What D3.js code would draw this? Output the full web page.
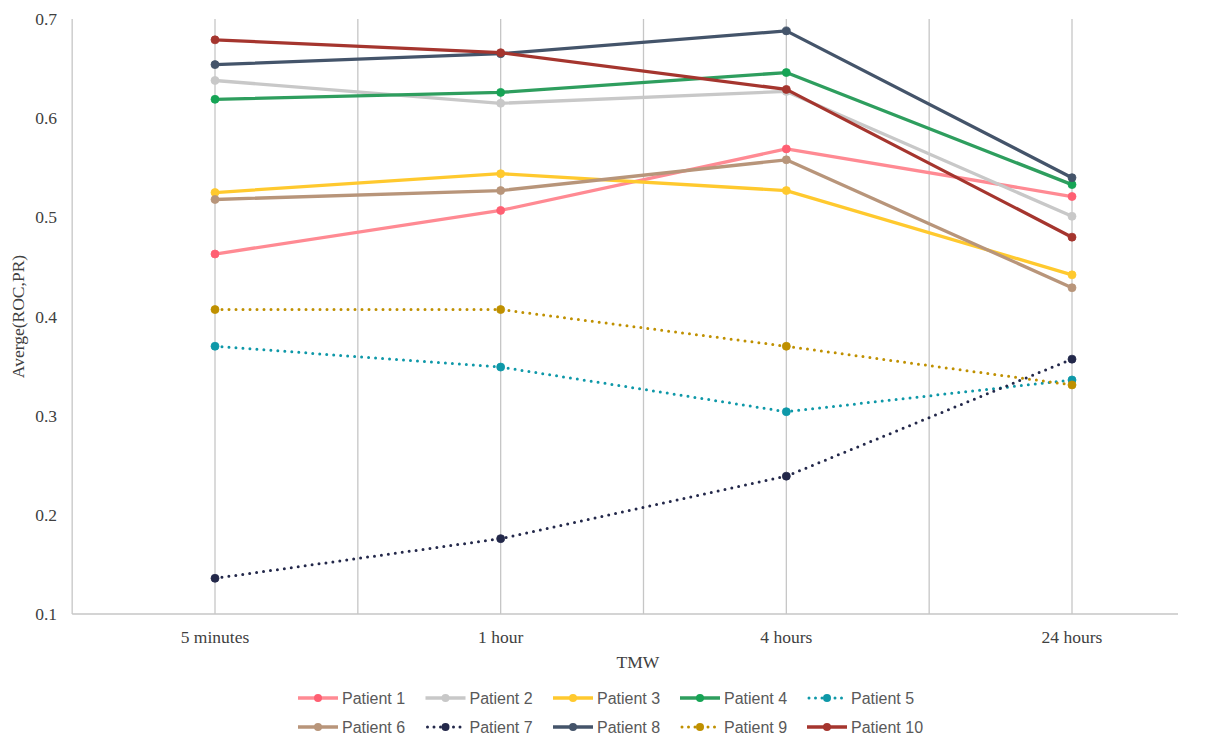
<!DOCTYPE html>
<html><head><meta charset="utf-8">
<script src="https://cdn.jsdelivr.net/npm/d3@7"></script>
<style>body{margin:0;background:#fff}svg{display:block}</style>
</head><body>
<svg id="c" width="1206" height="738"></svg>
<script>
const categories = ["5 minutes", "1 hour", "4 hours", "24 hours"];
const seriesNames = ["Patient 1","Patient 2","Patient 3","Patient 4","Patient 5","Patient 6","Patient 7","Patient 8","Patient 9","Patient 10"];
const p1  = [0.463, 0.507, 0.569, 0.521];
const p2  = [0.638, 0.615, 0.627, 0.501];
const p3  = [0.525, 0.544, 0.527, 0.442];
const p4  = [0.619, 0.626, 0.646, 0.533];
const p5  = [0.370, 0.349, 0.304, 0.336];
const p6  = [0.518, 0.527, 0.558, 0.429];
const p7  = [0.136, 0.176, 0.239, 0.357];
const p8  = [0.654, 0.665, 0.688, 0.540];
const p9  = [0.407, 0.407, 0.370, 0.331];
const p10 = [0.679, 0.666, 0.629, 0.480];
const yTicks = [0.1, 0.2, 0.3, 0.4, 0.5, 0.6, 0.7];

const values = [p1,p2,p3,p4,p5,p6,p7,p8,p9,p10];
const lineColors  = ["#FF8A93","#C8C8C8","#FFC92E","#2E9E5E","#0E98A8","#B8957A","#23284A","#44546A","#BF9000","#A5352E"];
const markColors  = ["#FF5F72","#C8C8C8","#FFC92E","#16A455","#0E98A8","#B8957A","#23284A","#44546A","#BF9000","#A5352E"];
const dotted = [false,false,false,false,true,false,true,false,true,false];

const svg = d3.select("#c");
const x = d3.scaleLinear().domain([0, categories.length - 1]).range([215, 1072]);
const y = d3.scaleLinear().domain([0.1, 0.7]).range([614, 19]);
const left = x(-0.5), right = 1178;

// vertical gridlines
const gl = d3.range(0, categories.length - 0.5 + 0.01, 0.5);
svg.append("g").selectAll("line").data(gl).join("line")
  .attr("x1", d => x(d)).attr("x2", d => x(d))
  .attr("y1", y(0.7)).attr("y2", y(0.1))
  .attr("stroke", "#C6C6C6").attr("stroke-width", 1.3);
svg.append("line").attr("x1", left).attr("x2", left).attr("y1", y(0.7)).attr("y2", y(0.1))
  .attr("stroke", "#C6C6C6").attr("stroke-width", 1.3);
svg.append("line").attr("x1", left).attr("x2", right).attr("y1", y(0.1)).attr("y2", y(0.1))
  .attr("stroke", "#C6C6C6").attr("stroke-width", 1.5);

const serif = "'Liberation Serif','Times New Roman',serif";
svg.append("g").selectAll("text").data(yTicks).join("text")
  .attr("x", 57).attr("y", d => y(d)).attr("dy", "0.35em")
  .attr("text-anchor", "end").attr("font-family", serif).attr("font-size", 17.5)
  .attr("fill", "#404040").text(d => d.toFixed(1));
svg.append("g").selectAll("text").data(categories).join("text")
  .attr("x", (d, i) => x(i)).attr("y", 637).attr("dy", "0.35em")
  .attr("text-anchor", "middle").attr("font-family", serif).attr("font-size", 17.5)
  .attr("fill", "#404040").text(d => d);
svg.append("text").attr("x", 638).attr("y", 662).attr("dy", "0.35em")
  .attr("text-anchor", "middle").attr("font-family", serif).attr("font-size", 17.5)
  .attr("fill", "#404040").text("TMW");
svg.append("text").attr("transform", "translate(18," + y(0.4) + ") rotate(-90)")
  .attr("dy", "0.35em").attr("text-anchor", "middle").attr("font-family", serif)
  .attr("font-size", 17.5).attr("fill", "#404040").text("Averge(ROC,PR)");

const line = d3.line().x((d, i) => x(i)).y(d => y(d));
values.forEach((vals, s) => {
  const g = svg.append("g");
  const path = g.append("path").datum(vals).attr("d", line).attr("fill", "none")
    .attr("stroke", lineColors[s]);
  if (dotted[s]) {
    path.attr("stroke-width", 3).attr("stroke-linecap", "round").attr("stroke-dasharray", "0,7");
  } else {
    path.attr("stroke-width", 3.3).attr("stroke-linejoin", "round");
  }
  g.selectAll("circle").data(vals).join("circle")
    .attr("cx", (d, i) => x(i)).attr("cy", d => y(d)).attr("r", 4)
    .attr("fill", markColors[s]).attr("stroke", markColors[s]).attr("stroke-width", 0.8);
});

const legX = [298, 425.5, 553, 680, 807];
const legY = [698, 727];
const lg = svg.append("g");
seriesNames.forEach((name, s) => {
  const col = s % 5, row = Math.floor(s / 5);
  const item = lg.append("g").attr("transform", `translate(${legX[col]},${legY[row]})`);
  const ln = item.append("line").attr("x1", 0).attr("x2", 40).attr("y1", 0).attr("y2", 0)
    .attr("stroke", lineColors[s]);
  if (dotted[s]) ln.attr("stroke-width", 3).attr("stroke-linecap", "round").attr("stroke-dasharray", "0,6.5").attr("x1", 2);
  else ln.attr("stroke-width", 3.3);
  item.append("circle").attr("cx", 20).attr("cy", 0).attr("r", 4).attr("fill", markColors[s]);
  item.append("text").attr("x", 44).attr("y", 0).attr("dy", "0.35em")
    .attr("font-family", "'Liberation Sans',Arial,sans-serif").attr("font-size", 16)
    .attr("fill", "#595959").text(name);
});
</script>
</body></html>
